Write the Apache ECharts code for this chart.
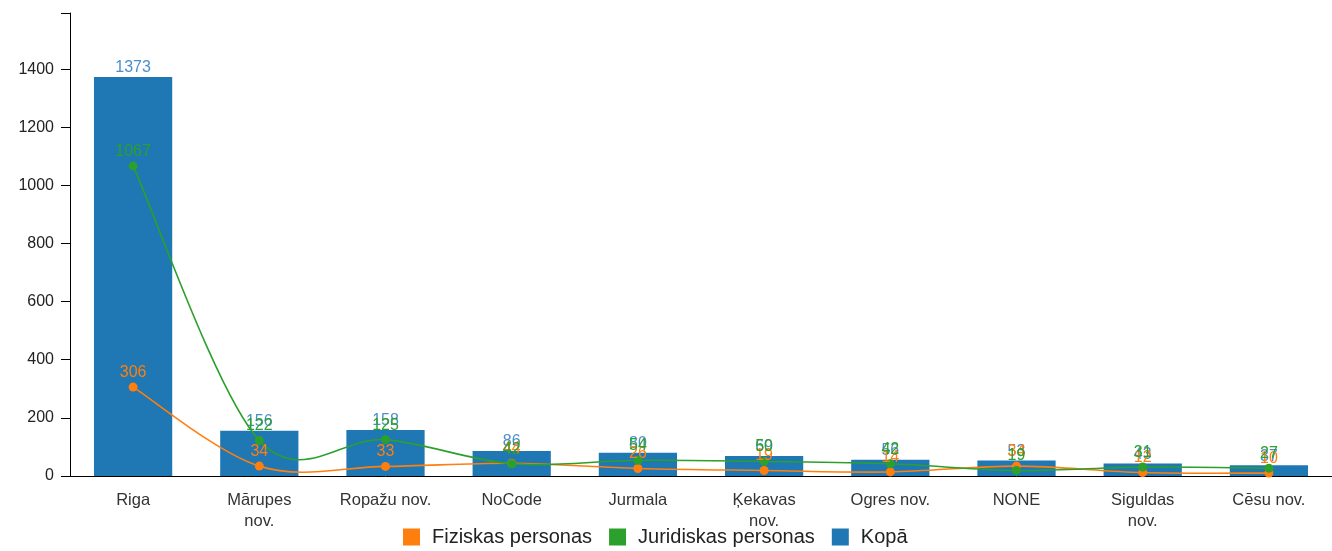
<!DOCTYPE html>
<html>
<head>
<meta charset="utf-8">
<script src="https://cdn.jsdelivr.net/npm/echarts@6/dist/echarts.min.js"></script>
<style>
html,body{margin:0;padding:0;background:#fff;}
#chart{width:1332px;height:551px;}
</style>
</head>
<body>
<div id="chart"></div>
<script>
var novadi = ['Riga','Mārupes nov.','Ropažu nov.','NoCode','Jurmala','Ķekavas nov.','Ogres nov.','NONE','Siguldas nov.','Cēsu nov.'];
var fiziskas = [306, 34, 33, 44, 26, 19, 14, 34, 12, 10];
var juridiskas = [1067, 122, 125, 42, 54, 50, 42, 19, 31, 27];
var kopa = [1373, 156, 158, 86, 80, 69, 56, 53, 43, 37];
var yTicks = [0, 200, 400, 600, 800, 1000, 1200, 1400];
var yMax = 1593;

var fonts = '"Liberation Sans", Arial, sans-serif';
var myChart = echarts.init(document.getElementById('chart'));

// cardinal līkne (kā d3 curveCardinal) caur asu koordinātām
function liknesSerija(name, values, color) {
	return {
		name: name,
		type: 'custom',
		coordinateSystem: 'cartesian2d',
		data: [[0, values[0]]],
		z: 2,
		silent: true,
		renderItem: function (params, api) {
			var p = values.map(function (v, i) { return api.coord([i, v]); });
			var d = 'M' + p[0][0] + ' ' + p[0][1];
			for (var i = 0; i < p.length - 1; i++) {
				var p0 = p[i - 1] || p[i];
				var p1 = p[i];
				var p2 = p[i + 1];
				var p3 = p[i + 2] || p[i + 1];
				var c1x = p1[0] + (p2[0] - p0[0]) / 6, c1y = p1[1] + (p2[1] - p0[1]) / 6;
				var c2x = p2[0] - (p3[0] - p1[0]) / 6, c2y = p2[1] - (p3[1] - p1[1]) / 6;
				d += ' C' + c1x + ' ' + c1y + ' ' + c2x + ' ' + c2y + ' ' + p2[0] + ' ' + p2[1];
			}
			return {
				type: 'path',
				shape: { pathData: d },
				style: { fill: 'none', stroke: color, lineWidth: 1.6 }
			};
		}
	};
}

function punktuSerija(name, values, color) {
	return {
		name: name,
		type: 'line',
		data: values,
		symbol: 'circle',
		symbolSize: 9,
		z: 3,
		lineStyle: { opacity: 0 },
		itemStyle: { color: color },
		label: { show: true, position: 'top', distance: 2, color: color, fontSize: 16 }
	};
}

var option = {
	animation: false,
	textStyle: { fontFamily: fonts },
	color: ['#ff7f0e', '#2ca02c', '#1f77b4'],
	legend: {
		data: ['Fiziskas personas', 'Juridiskas personas', 'Kopā'],
		top: 522,
		left: 398,
		icon: 'rect',
		itemWidth: 17,
		itemHeight: 17,
		itemGap: 17,
		textStyle: { fontSize: 20, color: '#222', fontFamily: fonts, padding: [0, 0, 0, 7] }
	},
	grid: { left: 70, right: -5, top: 13, bottom: 75 },
	xAxis: {
		type: 'category',
		data: novadi,
		axisLine: { lineStyle: { color: '#000', width: 1 } },
		axisTick: { length: 9, lineStyle: { color: '#000' } },
		axisLabel: {
			color: '#333',
			fontSize: 16.5,
			margin: 14,
			lineHeight: 21,
			interval: 0,
			formatter: function (v) {
				// garākos nosaukumus pārnes otrā rindā
				return v.length > 11 ? v.replace(' ', '\n') : v;
			}
		}
	},
	yAxis: {
		type: 'value',
		min: 0,
		max: yMax,
		interval: 200,
		splitLine: { show: false },
		axisLine: { show: true, lineStyle: { color: '#000', width: 1 } },
		axisTick: { show: true, length: 9, customValues: yTicks.concat([yMax]), lineStyle: { color: '#000' } },
		axisLabel: {
			color: '#222',
			fontSize: 16,
			margin: 16,
			customValues: yTicks,
			formatter: function (v) { return String(v); }
		}
	},
	series: [
		{
			name: 'Kopā',
			type: 'bar',
			data: kopa,
			barCategoryGap: '38%',
			z: 1,
			itemStyle: { color: '#1f77b4' },
			label: { show: true, position: 'top', distance: 1, color: '#4a8fca', fontSize: 16 }
		},
		liknesSerija('Fiziskas personas', fiziskas, '#ff7f0e'),
		liknesSerija('Juridiskas personas', juridiskas, '#2ca02c'),
		punktuSerija('Fiziskas personas', fiziskas, '#ff7f0e'),
		punktuSerija('Juridiskas personas', juridiskas, '#2ca02c')
	]
};
myChart.setOption(option);
</script>
</body>
</html>
